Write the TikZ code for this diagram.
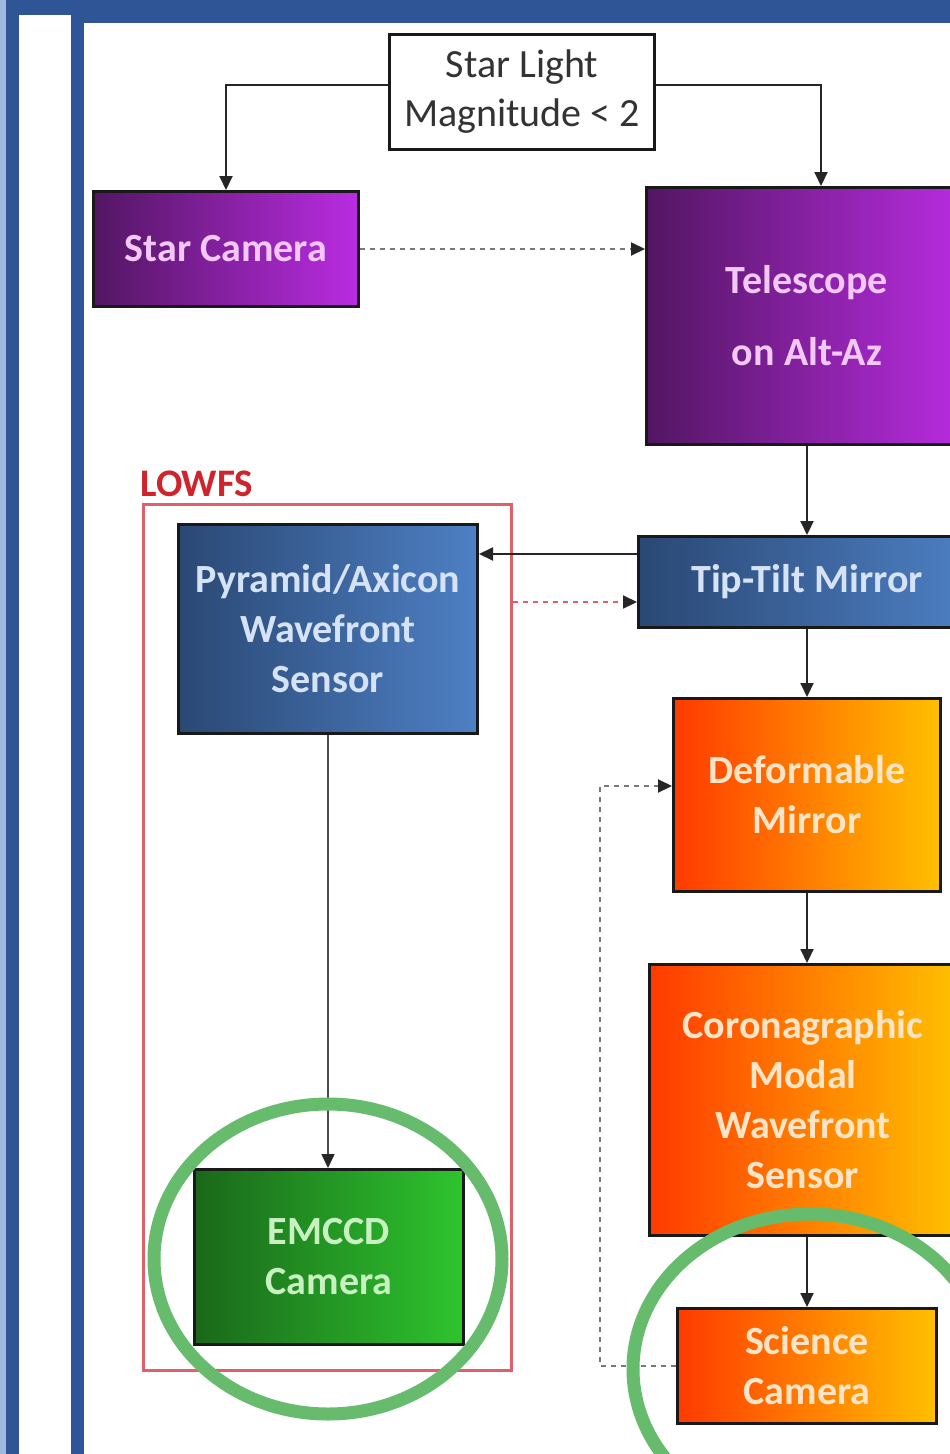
\documentclass[tikz,border=0pt]{standalone}
\usepackage{fontspec}
\setmainfont{Carlito}
\usetikzlibrary{arrows.meta}
\definecolor{frameblue}{RGB}{47,85,151}
\definecolor{stripblue}{RGB}{160,184,224}
\definecolor{purpleL}{RGB}{82,22,98}
\definecolor{purpleR}{RGB}{186,44,226}
\definecolor{blueL}{RGB}{42,72,116}
\definecolor{blueR}{RGB}{78,128,196}
\definecolor{orangeL}{RGB}{255,58,0}
\definecolor{orangeR}{RGB}{255,192,0}
\definecolor{greenL}{RGB}{26,104,26}
\definecolor{greenR}{RGB}{46,196,46}
\definecolor{txtpurple}{RGB}{242,200,246}
\definecolor{txtblue}{RGB}{214,226,245}
\definecolor{txtgreen}{RGB}{200,240,192}
\definecolor{txtorange}{RGB}{255,228,200}
\definecolor{linegray}{RGB}{38,38,38}
\definecolor{dashgray}{RGB}{120,120,120}
\definecolor{lowfsred}{RGB}{222,96,106}
\definecolor{labelred}{RGB}{208,36,44}
\definecolor{ringgreen}{RGB}{102,188,108}
\tikzset{
  boxbase/.style={draw=black!90, line width=3pt, align=center, inner sep=0pt,
    font=\fontsize{40}{50}\selectfont\bfseries},
  purplebox/.style={boxbase, left color=purpleL, right color=purpleR, text=txtpurple},
  bluebox/.style={boxbase, left color=blueL, right color=blueR, text=txtblue},
  orangebox/.style={boxbase, left color=orangeL, right color=orangeR, text=txtorange},
  greenbox/.style={boxbase, left color=greenL, right color=greenR, text=txtgreen},
  whitebox/.style={draw=black!90, line width=3pt, fill=white, align=center, inner sep=0pt,
    text=black!80, font=\fontsize{40}{49}\selectfont},
  tip/.style={-{Triangle[length=14pt,width=13pt,color=linegray]}},
  arr/.style={draw=linegray, line width=2pt, tip},
  dasharr/.style={draw=dashgray, line width=2pt, dash pattern=on 5pt off 5pt, tip},
  ring/.style={draw=ringgreen, line width=13pt},
}
\begin{document}
\begin{tikzpicture}[x=1pt,y=-1pt]
\useasboundingbox (0,0) rectangle (950,1454);
\clip (0,0) rectangle (950,1454);
% frame
\fill[frameblue] (0,0) rectangle (950,1454);
\fill[stripblue] (0,0) rectangle (6,1454);
\fill[white] (19,15) rectangle (71,1454);
\fill[white] (84,23) rectangle (950,1454);

% LOWFS group
\node[draw=lowfsred, line width=3pt, minimum width=368pt, minimum height=866pt, inner sep=0pt]
  (lowfs) at (327.5,937.5) {};
\node[anchor=base west, text=labelred, inner sep=0pt,
  font=\fontsize{39}{47}\selectfont\bfseries] (lowfslabel) at (140,496) {LOWFS};

% boxes
\node[whitebox, minimum width=265pt, minimum height=115pt] (starlight) at (522,92)
  {Star Light\\Magnitude < 2};
\node[purplebox, minimum width=265pt, minimum height=115pt] (starcam) at (226,249)
  {Star Camera};
\node[purplebox, minimum width=321pt, minimum height=257pt, font=\fontsize{40}{72}\selectfont\bfseries]
  (telescope) at (807,316) {Telescope\\on Alt-Az};
\node[bluebox, minimum width=337pt, minimum height=91pt] (tiptilt) at (807,582)
  {Tip-Tilt Mirror};
\node[bluebox, minimum width=299pt, minimum height=209pt] (pyramid) at (328,629)
  {Pyramid/Axicon\\Wavefront\\Sensor};
\node[orangebox, minimum width=267pt, minimum height=193pt] (dm) at (807,795)
  {Deformable\\Mirror};
\node[orangebox, minimum width=307pt, minimum height=271pt] (corona) at (803,1100)
  {Coronagraphic\\Modal\\Wavefront\\Sensor};
\node[greenbox, minimum width=269pt, minimum height=175pt] (emccd) at (329,1257)
  {EMCCD\\Camera};
\node[orangebox, minimum width=259pt, minimum height=115pt] (science) at (807,1366)
  {Science\\Camera};

% helper coordinates
\coordinate (ytop) at (0,85);
\coordinate (ypyr) at (0,554);
\coordinate (ylow) at (0,602);
\coordinate (loop) at (600,786);

% connectors
\draw[arr] (starlight.west |- ytop) -| (starcam.north);
\draw[arr] (starlight.east |- ytop) -| ([xshift=14pt]telescope.north);
\draw[dasharr] (starcam.east) -- (starcam.east -| telescope.west);
\draw[arr] (telescope.south) -- (tiptilt.north);
\draw[arr] (tiptilt.west |- ypyr) -- (pyramid.east |- ypyr);
\draw[draw=lowfsred, line width=2pt, dash pattern=on 5pt off 5pt, tip]
  (lowfs.east |- ylow) -- (tiptilt.west |- ylow);
\draw[arr] (tiptilt.south) -- (dm.north);
\draw[arr] (dm.south) -- (dm.south |- corona.north);
\draw[arr] (dm.south |- corona.south) -- (science.north);
\draw[dasharr] (science.west) -| (loop) -- (loop -| dm.west);
\draw[draw=black!70, line width=1.5pt, tip] (pyramid.south) -- (pyramid.south |- emccd.north);

% highlight rings
\draw[ring] (328,1259) ellipse [x radius=174, y radius=155];
\draw[ring] (810,1369) ellipse [x radius=177, y radius=155];
\end{tikzpicture}
\end{document}
